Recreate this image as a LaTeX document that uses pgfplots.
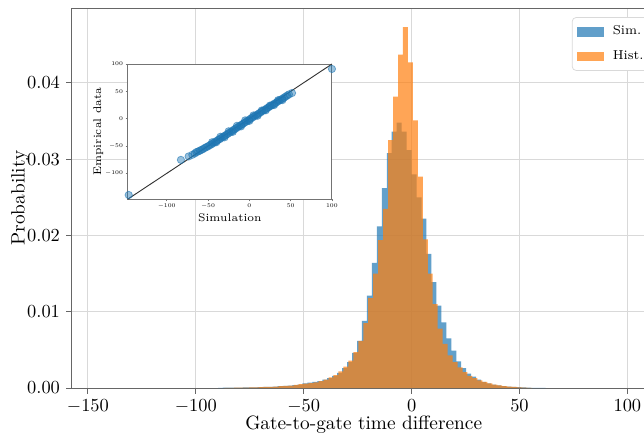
\documentclass[border=0pt]{standalone}
\usepackage{pgfplots}
\pgfplotsset{compat=1.18}
\definecolor{mblue}{HTML}{1F77B4}
\definecolor{morange}{HTML}{FF7F0E}
\begin{document}
\begin{tikzpicture}
\begin{axis}[name=main,
  scale only axis, width=310.9pt, height=206.5pt,
  xmin=-157.4, xmax=107.7, ymin=0, ymax=0.0498,
  axis x line*=box, axis y line*=left,
  xtick pos=left, ytick pos=left,
  xtick={-150,-100,-50,0,50,100},
  ytick={0,0.01,0.02,0.03,0.04},
  scaled y ticks=false,
  yticklabel style={/pgf/number format/.cd, fixed, fixed zerofill, precision=2},
  grid=major, grid style={black!15, line width=0.5pt},
  axis line style={black!60, line width=0.6pt},
  tick style={black!60, line width=0.5pt},
  tick align=outside, major tick length=3pt,
  tick label style={font=\fontsize{10}{12}\selectfont},
  label style={font=\fontsize{10.5}{12}\selectfont},
  xlabel={Gate-to-gate time difference},
  ylabel={Probability},
  xlabel style={at={(axis description cs:0.51,-0.097)}, anchor=center},
  ylabel style={at={(axis description cs:-0.091,0.5)}, anchor=center},
  legend style={at={(0.874,0.976)}, anchor=north west, draw=black!15, rounded corners=2pt,
    fill=white, font=\fontsize{7}{8}\selectfont, inner xsep=2.5pt, inner ysep=2.5pt, row sep=3pt},
  legend cell align=left,
  legend image code/.code={\fill[#1, sharp corners] (0pt,-2.6pt) rectangle (15pt,2.6pt); \path (17.5pt,0pt);},
]
\addplot[const plot, fill=mblue, fill opacity=0.7, draw=none] coordinates {
(-89.7,0.00003) (-87.4,0.00005) (-85.1,0.00005) (-82.8,0.00006) (-80.5,0.00007) (-78.2,0.00008)
(-75.9,0.00009) (-73.6,0.0001) (-71.3,0.00012) (-69.0,0.00014) (-66.7,0.00016) (-64.4,0.0002)
(-62.1,0.00024) (-59.8,0.00028) (-57.5,0.00033) (-55.2,0.00038) (-52.9,0.00045) (-50.6,0.0006)
(-48.3,0.0007) (-46.0,0.0008) (-43.7,0.0009) (-41.4,0.0011) (-39.1,0.0013) (-36.8,0.0016)
(-34.5,0.0020) (-32.2,0.0026) (-29.9,0.0034) (-27.6,0.0046) (-25.3,0.0062) (-23.0,0.0088)
(-20.7,0.0121) (-18.4,0.0164) (-16.1,0.0212) (-13.8,0.0262) (-11.5,0.0308) (-9.2,0.0336)
(-6.9,0.0348) (-4.6,0.0336) (-2.3,0.0312) (0.0,0.0280) (2.3,0.0250) (4.6,0.0222)
(6.9,0.0176) (9.2,0.0139) (11.5,0.0108) (13.8,0.0086) (16.1,0.0065) (18.4,0.0049)
(20.7,0.0035) (23.0,0.0026) (25.3,0.0019) (27.6,0.0015) (29.9,0.0011) (32.2,0.0008)
(34.5,0.0006) (36.8,0.00045) (39.1,0.00035) (41.4,0.00026) (43.7,0.0002) (46.0,0.00015)
(48.3,0.00011) (50.6,0.00008) (52.9,0.00006) (55.2,0.00004) (57.5,0.00003) (59.8,0.00002)
(62.1,0)
} \closedcycle;
\addlegendentry{Sim.}
\addplot[const plot, fill=morange, fill opacity=0.7, draw=none] coordinates {
(-86.8,0.00003) (-84.5,0.00004) (-82.2,0.00005) (-79.9,0.00006) (-77.6,0.00007) (-75.3,0.00008)
(-73.0,0.0001) (-70.7,0.00012) (-68.4,0.00014) (-66.1,0.00017) (-63.8,0.0002) (-61.5,0.00024)
(-59.2,0.00028) (-56.9,0.00033) (-54.6,0.00042) (-52.3,0.0005) (-50.0,0.00057) (-47.7,0.00065)
(-45.4,0.00075) (-43.1,0.0009) (-40.8,0.0011) (-38.5,0.0014) (-36.2,0.0017) (-33.9,0.0022)
(-31.6,0.0028) (-29.3,0.0036) (-27.0,0.0047) (-24.7,0.0062) (-22.4,0.0085) (-20.1,0.0118)
(-17.8,0.0150) (-15.5,0.0194) (-13.2,0.0235) (-10.9,0.0325) (-8.6,0.0382) (-6.3,0.0437)
(-4.0,0.0473) (-1.7,0.0427) (0.6,0.0351) (2.9,0.0277) (5.2,0.0195) (7.5,0.0150)
(9.8,0.0110) (12.1,0.0078) (14.4,0.0058) (16.7,0.0043) (19.0,0.0034) (21.3,0.0027)
(23.6,0.0021) (25.9,0.0016) (28.2,0.0013) (30.5,0.0010) (32.8,0.0008) (35.1,0.0006)
(37.4,0.00045) (39.7,0.00035) (42.0,0.00027) (44.3,0.0002) (46.6,0.00015) (48.9,0.0001)
(51.2,0.00007) (53.5,0.00004) (55.8,0)
} \closedcycle;
\addlegendentry{Hist.}
\end{axis}
\begin{axis}[
  at={(main.south west)}, anchor=south west, xshift=30.4pt, yshift=102.7pt,
  scale only axis, width=110.9pt, height=73.4pt,
  xmin=-147, xmax=100, ymin=-147, ymax=100,
  xtick={-100,-50,0,50,100}, ytick={-100,-50,0,50,100},
  axis background/.style={fill=white},
  axis line style={black!55, line width=0.5pt},
  tick style={black!55, line width=0.3pt},
  tick align=outside, tick pos=left, major tick length=1.2pt,
  tick label style={font=\fontsize{5}{6}\selectfont, scale=0.62},
  xticklabel style={yshift=1.2pt}, yticklabel style={xshift=1.2pt},
  label style={font=\fontsize{6}{7}\selectfont},
  xlabel={Simulation}, ylabel={Empirical data},
  xlabel style={at={(axis description cs:0.5,-0.14)}, anchor=center},
  ylabel style={at={(axis description cs:-0.145,0.5)}, anchor=center},
  clip=false,
]
\addplot[black!80, line width=0.5pt] coordinates {(-147,-147) (100,100)};
\addplot[only marks, mark=*, mark size=2pt, mark options={fill=mblue, draw=mblue, fill opacity=0.45, draw opacity=0.6}] coordinates {
(-146,-139.5) (-82.8,-75.3) (-73.5,-69) (-69,-66) (-66,-63.5) (-64,-61) (-62,-60) (-60,-58.5)
(-58,-57) (-56,-55.5) (-54,-53.5) (-52,-52) (-50,-50.5) (-48,-48.5) (-46,-47) (-44,-45)
(-42,-43) (-40,-41) (-38,-39) (-36,-37.5) (-34,-35.5) (-32,-33) (-30,-31.5) (-28,-29.5)
(-26,-27.5) (-24,-25.5) (-22,-23.5) (-20,-21.5) (-18,-19.5) (-16,-17.5) (-14,-15.5) (-12,-13.5)
(-10,-11.5) (-8,-9.5) (-6,-7.5) (-4,-5.5) (-2,-3.5) (0,-1.5) (2,0.5) (4,2.5) (6,4.3) (8,6.2)
(10,8.0) (12,10.0) (14,12.0) (16,14.0) (18,15.8) (20,17.8) (22,19.8) (24,21.6) (26,23.5)
(28,25.3) (30,27.2) (32,29.0) (34,31.0) (36,33.0) (38,34.8) (40,36.5) (42,38.5) (44,40.5)
(46,42.5) (48,44.5) (51.7,47) (100,91)
(-45,-43) (-35,-33) (-25,-23) (-15,-13) (-5,-3) (5,6) (15,15) (25,24) (35,34)
(-40,-43) (-30,-34) (-20,-24) (-10,-14) (0,-4) (10,5.5) (20,15.5) (30,25) (40,34)
};
\end{axis}
\pgfresetboundingbox
\path[use as bounding box] ([xshift=-39.1pt,yshift=-25.5pt]main.south west) rectangle ++(350pt,236.4pt);
\end{tikzpicture}
\end{document}
